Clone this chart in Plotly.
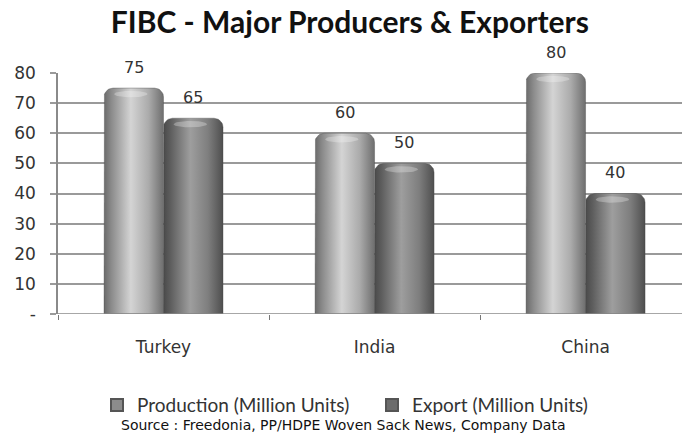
import math
import plotly.graph_objects as go

# Chart data
countries = ["Turkey", "India", "China"]
production = [75, 60, 80]
export = [65, 50, 40]
y_ticks = [0, 10, 20, 30, 40, 50, 60, 70, 80]
y_tick_labels = ["-", "10", "20", "30", "40", "50", "60", "70", "80"]

# Figure geometry
W, H = 682, 436
ML, MR, MT, MB = 58, 0, 73, 122
X_RANGE = [-0.5, 2.457]
Y_RANGE = [0, 80]
px_per_x = (W - ML - MR) / (X_RANGE[1] - X_RANGE[0])
px_per_y = (H - MT - MB) / (Y_RANGE[1] - Y_RANGE[0])

BAR_W = 0.282          # width of one bar in category units
RADIUS_PX = 9          # rounded top radius in pixels

TEXT = "#333333"
GRID = "#9a9a9a"

prod_scale = [[0, "#6a6a6a"], [0.12, "#8a8a8a"], [0.45, "#d4d4d4"], [0.75, "#ababab"], [1, "#6e6e6e"]]
exp_scale = [[0, "#4a4a4a"], [0.12, "#5e5e5e"], [0.45, "#9e9e9e"], [0.75, "#7e7e7e"], [1, "#4e4e4e"]]


def rounded_bar(x0, x1, v, n=10):
    """Outline of a bar with rounded top corners, in data units."""
    rx = RADIUS_PX / px_per_x
    ry = RADIUS_PX / px_per_y
    xs, ys = [x0], [0]
    for k in range(n + 1):
        a = math.pi - (math.pi / 2) * k / n
        xs.append(x0 + rx + rx * math.cos(a))
        ys.append(v - ry + ry * math.sin(a))
    for k in range(n + 1):
        a = math.pi / 2 - (math.pi / 2) * k / n
        xs.append(x1 - rx + rx * math.cos(a))
        ys.append(v - ry + ry * math.sin(a))
    xs += [x1, x0]
    ys += [0, 0]
    return xs, ys


def top_glint(x0, x1, v):
    """Soft highlight near the cap of a cylinder bar."""
    cx = x0 + (x1 - x0) * 0.45
    rx = (x1 - x0) * 0.28
    ry = 3.2 / px_per_y
    cy = v - 6 / px_per_y
    xs, ys = [], []
    for k in range(41):
        a = 2 * math.pi * k / 40
        xs.append(cx + rx * math.cos(a))
        ys.append(cy + ry * math.sin(a))
    return xs, ys


fig = go.Figure()
annotations = []

series = [
    ("Production (Million Units)", production, -1, prod_scale, "#8c8c8c"),
    ("Export (Million Units)", export, 0, exp_scale, "#6c6c6c"),
]

for name, vals, side, scale, legend_color in series:
    for i, v in enumerate(vals):
        x0 = i + side * BAR_W
        x1 = x0 + BAR_W
        xs, ys = rounded_bar(x0, x1, v)
        fig.add_trace(go.Scatter(
            x=xs, y=ys, mode="lines", fill="toself",
            line=dict(width=0.6, color="rgba(70,70,70,0.6)"),
            fillgradient=dict(type="horizontal", colorscale=scale),
            showlegend=False, hoverinfo="skip",
        ))
        gx, gy = top_glint(x0, x1, v)
        fig.add_trace(go.Scatter(
            x=gx, y=gy, mode="lines", fill="toself",
            line=dict(width=0), fillcolor="rgba(255,255,255,0.28)",
            showlegend=False, hoverinfo="skip",
        ))
        # value label above the bar
        annotations.append(dict(
            x=(x0 + x1) / 2, y=v, xref="x", yref="y", text=str(v),
            showarrow=False, yanchor="middle", yshift=21,
            font=dict(family="DejaVu Sans", size=16, color=TEXT),
        ))
    # legend entry
    fig.add_trace(go.Scatter(
        x=[None], y=[None], mode="markers", name=name,
        marker=dict(symbol="square", size=10, color=legend_color,
                    line=dict(width=1, color="#555555")),
    ))

annotations.append(dict(
    text="Source : Freedonia, PP/HDPE Woven Sack News, Company Data",
    xref="paper", yref="paper", x=0.458, y=-0.462, xanchor="center", yanchor="middle",
    showarrow=False, font=dict(family="DejaVu Sans", size=14, color="#111111"),
))

fig.update_layout(
    width=W, height=H,
    margin=dict(l=ML, r=MR, t=MT, b=MB),
    paper_bgcolor="white", plot_bgcolor="white",
    title=dict(
        text="<b>FIBC - Major Producers & Exporters</b>",
        x=0.513, xanchor="center", y=0.948, yanchor="middle",
        font=dict(family="Lato", size=30, color="#111111"),
    ),
    xaxis=dict(
        range=X_RANGE, tickmode="array", tickvals=[0, 1, 2], ticktext=countries,
        showgrid=False, zeroline=False, ticks="", showline=False,
        tickfont=dict(family="DejaVu Sans", size=17, color=TEXT),
        ticklabelstandoff=21,
        minor=dict(tickmode="array", tickvals=[-0.5, 0.5, 1.5], ticks="outside",
                   ticklen=5, tickcolor="#777777", tickwidth=1.2, showgrid=False),
    ),
    yaxis=dict(
        range=Y_RANGE, tickmode="array", tickvals=y_ticks, ticktext=y_tick_labels,
        showgrid=True, gridcolor=GRID, gridwidth=1.6,
        zeroline=False, showline=True, linecolor="#8a8a8a", linewidth=1.6,
        ticks="outside", ticklen=6, tickcolor=GRID, tickwidth=1.6,
        tickfont=dict(family="DejaVu Sans", size=17, color=TEXT),
        ticklabelstandoff=11,
    ),
    legend=dict(
        orientation="h", x=0.0625, xanchor="left", y=-0.378, yanchor="middle",
        font=dict(family="Lato", size=19, color=TEXT),
        itemsizing="constant", itemwidth=30, entrywidth=230,
    ),
    annotations=annotations,
    shapes=[dict(
        type="line", xref="paper", yref="y", x0=0, x1=1, y0=0, y1=0,
        line=dict(color="#8a8a8a", width=1.6),
    )],
)

fig.write_html("out.html")
